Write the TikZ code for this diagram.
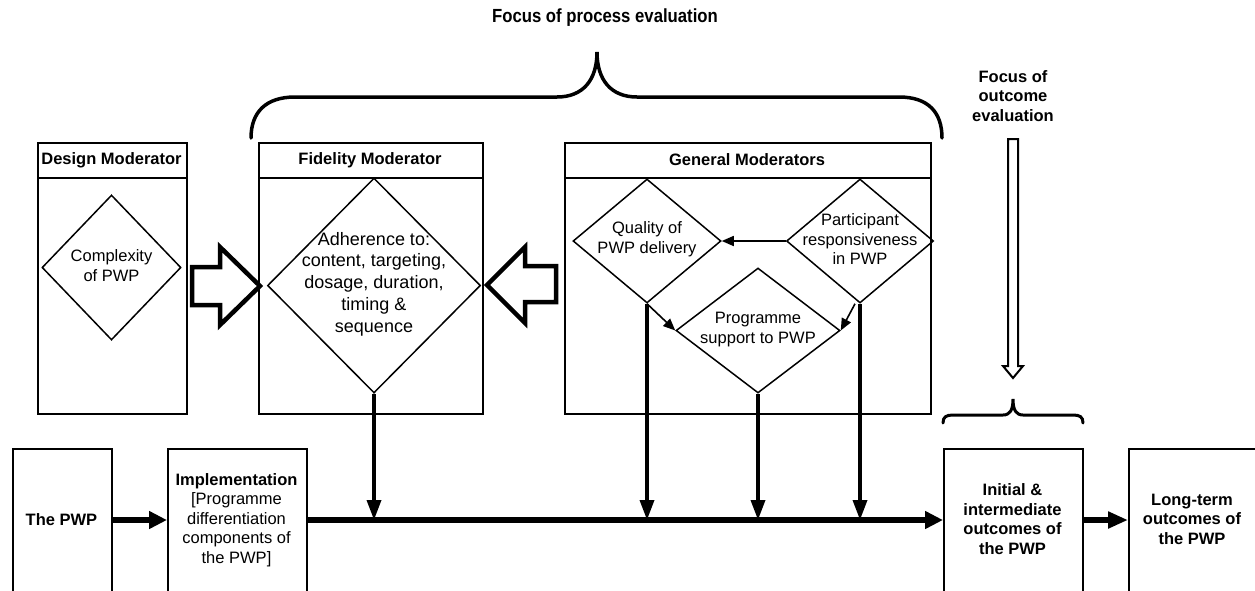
\documentclass[tikz,border=0pt]{standalone}
\usepackage{fontspec}
\setmainfont{Liberation Sans}
\usetikzlibrary{shapes.geometric,arrows.meta}
\begin{document}
\begin{tikzpicture}[x=1pt,y=-1pt,
  frame/.style={draw, line width=1.6pt, inner sep=0pt, anchor=north west},
  dia/.style={draw, diamond, line width=1.5pt, inner sep=0pt},
  txt/.style={align=center, inner sep=0pt, font=\fontsize{16.5}{19.5}\selectfont},
  btxt/.style={align=center, inner sep=0pt, font=\fontsize{16.5}{19.5}\selectfont\bfseries},
  bigtxt/.style={align=center, inner sep=0pt, font=\fontsize{18}{21.7}\selectfont},
  drop/.style={line width=3.5pt, -{Triangle[length=20pt,width=14pt]}},
  thinarr/.style={line width=1.6pt, -{Triangle[length=12pt,width=10pt]}},
  mainarr/.style={line width=6.5pt, -{Triangle[length=18pt,width=17pt]}},
  hollow/.style={draw, line width=4.5pt, line join=miter, fill=white},
  brace/.style={line width=3.5pt, line cap=round}
]
\useasboundingbox (0,0) rectangle (1255,590);
\clip (0,0) rectangle (1255,590);

% ---- title texts
\node[align=center, inner sep=0pt, font=\fontsize{19}{22}\selectfont\bfseries] (ptitle) at (605,18) {\scalebox{0.88}[1]{Focus of process evaluation}};
\node[btxt] (otitle) at (1013,96) {Focus of\\outcome\\evaluation};

% ---- big brace
\draw[brace] (251,138) .. controls (251,112) and (266,97) .. (295,97) -- (557,97)
  .. controls (583,97) and (597,80) .. (597,52)
  .. controls (597,80) and (611,97) .. (637,97) -- (899,97)
  .. controls (928,97) and (942,112) .. (942,138);

% ---- Design moderator
\node[frame, minimum width=149pt, minimum height=271pt] (dbox) at (37,142) {};
\draw[line width=1.6pt] (37,178) -- (186,178);
\node[btxt] (dhdr) at (111.5,160) {Design Moderator};
\node[dia, minimum width=139pt, minimum height=145pt] (cplx) at (111.5,267.5) {};
\node[txt] (cplxT) at (111.5,265.5) {Complexity\\of PWP};

% ---- Fidelity moderator
\node[frame, minimum width=224pt, minimum height=271pt] (fbox) at (258,142) {};
\draw[line width=1.6pt] (258,178) -- (482,178);
\node[btxt] (fhdr) at (370,160) {Fidelity Moderator};
\node[dia, minimum width=213pt, minimum height=215pt] (fid) at (374,285.5) {};
\node[bigtxt] (fidT) at (374,284) {Adherence to:\\content, targeting,\\dosage, duration,\\timing \&\\sequence};

% ---- General moderators
\node[frame, minimum width=366pt, minimum height=271pt] (gbox) at (564,142) {};
\draw[line width=1.6pt] (564,178) -- (930,178);
\node[btxt] (ghdr) at (747,160) {General Moderators};
\node[dia, minimum width=148pt, minimum height=124pt] (qual) at (647,241) {};
\node[txt] (qualT) at (647,239) {Quality of\\PWP delivery};
\node[dia, minimum width=147pt, minimum height=124pt] (part) at (860,241) {};
\node[txt] (partT) at (860,239.5) {Participant\\responsiveness\\in PWP};
\node[dia, minimum width=164pt, minimum height=125pt, fill=white] (prog) at (758,330.5) {};
\node[txt] (progT) at (758,329.5) {Programme\\support to PWP};

\draw[thinarr] (part.west) -- (qual.east);
\draw[thinarr] (qual.south) -- (prog.west);
\draw[thinarr] ([xshift=-5pt]part.south) -- (prog.east);

% ---- hollow arrows
\draw[hollow] (192,267) -- (220,267) -- (220,247) -- (260,286) -- (220,325) -- (220,305) -- (192,305) -- cycle;
\draw[hollow] (556,266) -- (525,266) -- (525,247) -- (487,285) -- (525,323) -- (525,302) -- (556,302) -- cycle;
\draw[line width=2pt, fill=white] (1008,139) -- (1018,139) -- (1018,366) -- (1023,366) -- (1013,378) -- (1003,366) -- (1008,366) -- cycle;

% ---- small brace
\draw[brace, line width=3pt] (943,423) .. controls (943,417) and (946,415) .. (953,415) -- (1003,415)
  .. controls (1010,415) and (1013,410) .. (1013,399)
  .. controls (1013,410) and (1016,415) .. (1023,415) -- (1073,415)
  .. controls (1080,415) and (1083,417) .. (1083,423);

% ---- bottom row
\node[frame, minimum width=99pt, minimum height=150pt] (pwp) at (12,448) {};
\node[btxt] (pwpT) at (61.5,520) {The PWP};
\node[frame, minimum width=139pt, minimum height=150pt] (impl) at (167,448) {};
\node[txt] (implT) at (236.5,520) {\textbf{Implementation}\\{[Programme}\\differentiation\\components of\\the PWP]};
\node[frame, minimum width=139pt, minimum height=150pt] (init) at (943,448) {};
\node[btxt] (initT) at (1012.5,519) {Initial \&\\intermediate\\outcomes of\\the PWP};
\node[frame, minimum width=130pt, minimum height=150pt] (long) at (1128,448) {};
\node[btxt] (longT) at (1192,519) {Long-term\\outcomes of\\the PWP};

\coordinate (mid) at (0,520);
\draw[mainarr] (pwp.east |- mid) -- (impl.west |- mid);
\draw[mainarr] (impl.east |- mid) -- (init.west |- mid);
\draw[mainarr, -{Triangle[length=20pt,width=16pt]}] (init.east |- mid) -- (long.west |- mid);

% ---- drops
\draw[drop] (fid.south) -- (fid.south |- mid);
\draw[drop] (qual.south) -- (qual.south |- mid);
\draw[drop] (prog.south) -- (prog.south |- mid);
\draw[drop] (part.south) -- (part.south |- mid);
\end{tikzpicture}
\end{document}
